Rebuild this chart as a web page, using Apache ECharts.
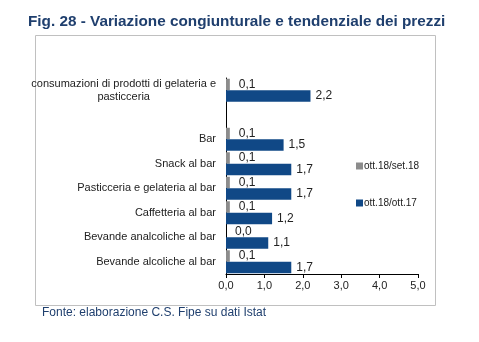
<!DOCTYPE html>
<html>
<head>
<meta charset="utf-8">
<script src="https://cdn.jsdelivr.net/npm/echarts@6/dist/echarts.min.js"></script>
<style>html,body{margin:0;padding:0;background:#fff;}#c{width:479px;height:342px;}</style>
</head>
<body>
<div id="c"></div>
<script>
var categories = [
  'Bevande alcoliche al bar',
  'Bevande analcoliche al bar',
  'Caffetteria al bar',
  'Pasticceria e gelateria al bar',
  'Snack al bar',
  'Bar',
  '',
  'consumazioni di prodotti di gelateria e\npasticceria'
];
var congiunturale = [0.1, 0.0, 0.1, 0.1, 0.1, 0.1, null, 0.1];
var tendenziale = [1.7, 1.1, 1.2, 1.7, 1.7, 1.5, null, 2.2];
var seriesNames = ['ott.18/set.18', 'ott.18/ott.17'];
var xTicks = [0, 1, 2, 3, 4, 5];

var chart = echarts.init(document.getElementById('c'), null, {renderer: 'canvas'});
var fmt = function (p) { return p.value == null ? '' : p.value.toFixed(1).replace('.', ','); };
chart.setOption({
  animation: false,
  backgroundColor: '#fff',
  title: {
    text: 'Fig. 28 - Variazione congiunturale e tendenziale dei prezzi',
    left: 23, top: 9,
    textStyle: {fontFamily: 'Liberation Sans', fontSize: 15.3, fontWeight: 'bold', color: '#1f3f6e'}
  },
  graphic: [
    {type: 'rect', shape: {x: 35.5, y: 35.5, width: 400, height: 270}, style: {fill: 'none', stroke: '#c0c0c0', lineWidth: 1}, z: -1},
    {type: 'text', left: 42, top: 307, style: {text: 'Fonte: elaborazione C.S. Fipe su dati Istat', fontFamily: 'Liberation Sans', fontSize: 12, fill: '#1f3f6e'}}
  ],
  legend: {
    orient: 'vertical', left: 351, top: 156, itemWidth: 7, itemHeight: 7, itemGap: 27,
    icon: 'rect', data: seriesNames,
    textStyle: {fontFamily: 'Liberation Sans', fontSize: 10, color: '#222', padding: [0, 0, 0, -4]}
  },
  grid: {left: 226, top: 78, width: 192, height: 196, containLabel: false},
  xAxis: {
    type: 'value', min: xTicks[0], max: xTicks[xTicks.length - 1], interval: 1,
    axisLine: {show: true, lineStyle: {color: '#000', width: 1}},
    axisTick: {show: true, length: 4, lineStyle: {color: '#000'}},
    splitLine: {show: false},
    axisLabel: {fontFamily: 'Liberation Sans', fontSize: 11, color: '#222', margin: 6,
      formatter: function (v) { return v.toFixed(1).replace('.', ','); }}
  },
  yAxis: {
    type: 'category', data: categories, inverse: false,
    axisLine: {show: true, lineStyle: {color: '#000', width: 1}},
    axisTick: {show: false},
    axisLabel: {fontFamily: 'Liberation Sans', fontSize: 11, color: '#222', margin: 10, interval: 0,
      formatter: function (v) { return v.split('\n').map(function (s) { return '{c|' + s + '}'; }).join('\n'); },
      rich: {c: {align: 'center', fontFamily: 'Liberation Sans', fontSize: 11, color: '#222', lineHeight: 13}}}
  },
  series: [
    {
      name: seriesNames[0], type: 'bar', data: congiunturale,
      barWidth: 11.5, barGap: '0%', barCategoryGap: '6%',
      itemStyle: {color: '#8c8c8c'},
      label: {show: true, position: 'right', distance: 9, formatter: fmt,
        fontFamily: 'Liberation Sans', fontSize: 12, color: '#222'}
    },
    {
      name: seriesNames[1], type: 'bar', data: tendenziale,
      barWidth: 11.5, barGap: '0%',
      itemStyle: {color: '#104886'},
      label: {show: true, position: 'right', distance: 5, formatter: fmt,
        fontFamily: 'Liberation Sans', fontSize: 12, color: '#222'}
    }
  ]
});
</script>
</body>
</html>
